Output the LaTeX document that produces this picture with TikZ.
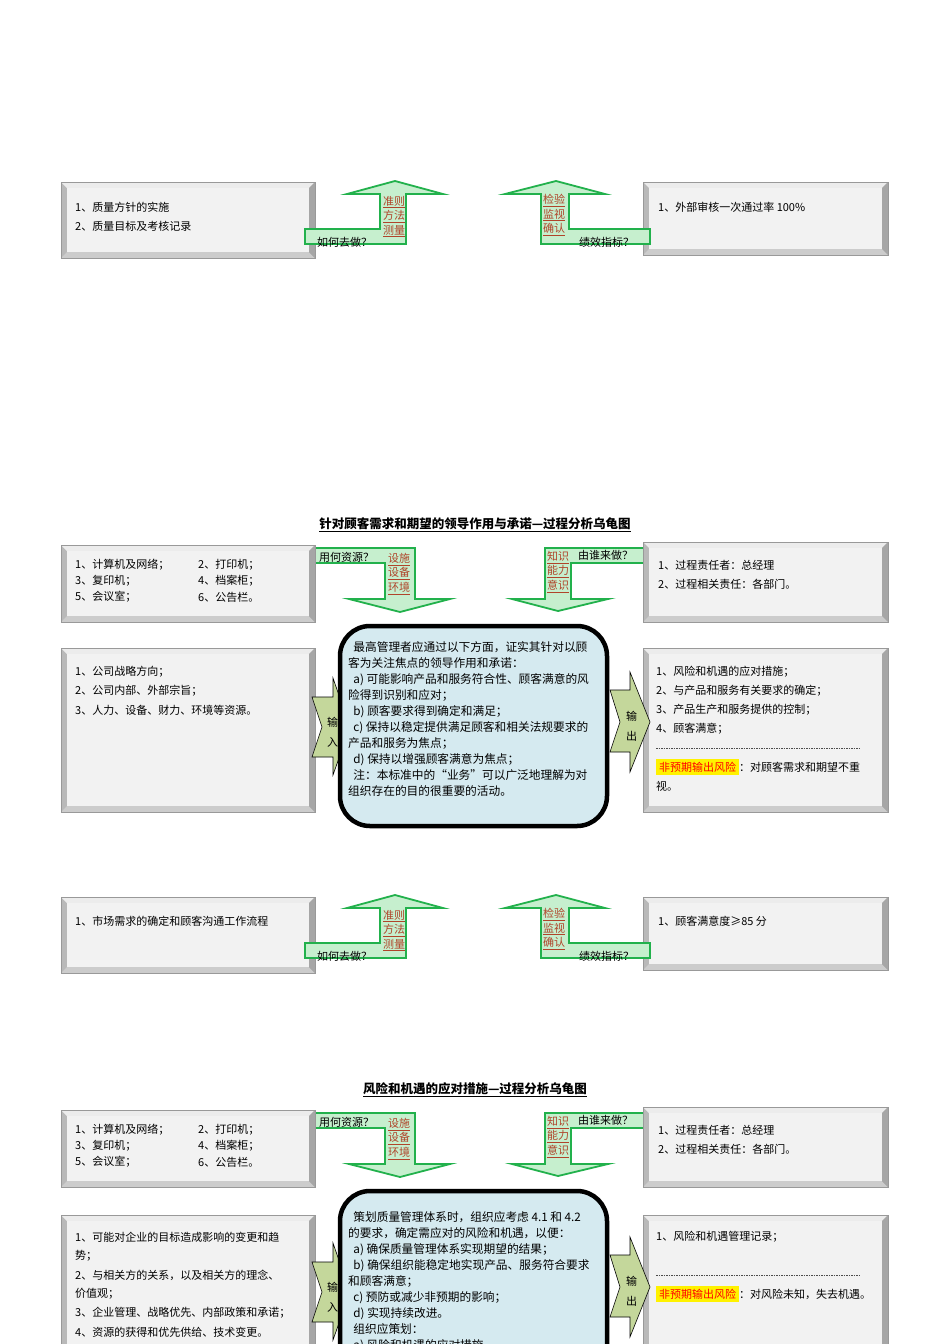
\documentclass[tikz,border=0pt]{standalone}
\usepackage{fontspec}
\setmainfont{Noto Sans CJK SC}
\definecolor{boxfill}{HTML}{F2F2F2}
\definecolor{grfill}{HTML}{C6EFCE}
\definecolor{grline}{HTML}{22B14C}
\definecolor{olive}{HTML}{C4D79B}
\definecolor{cblue}{HTML}{D5EAF0}
\definecolor{rbrown}{HTML}{B0442A}
\newcommand\bevbox[4]{%
 \fill[gray!55] (#1,#2) rectangle (#3,#4);
 \fill[gray!15] (#1,#2)--(#3,#2)--(#3-6,#2+6)--(#1+6,#2+6)--cycle;
 \fill[gray!40] (#1,#4)--(#3,#4)--(#3-6,#4-6)--(#1+6,#4-6)--cycle;
 \fill[gray!70] (#3,#2)--(#3,#4)--(#3-6,#4-6)--(#3-6,#2+6)--cycle;
 \fill[boxfill] (#1+6,#2+6) rectangle (#3-6,#4-6);
 \draw[gray!80] (#1,#2) rectangle (#3,#4);}
\newcommand\rl[1]{\textcolor{rbrown}{\underline{#1}}}
\tikzset{t/.style={anchor=west,inner sep=0pt,font=\fontsize{11}{12}\selectfont},
 g/.style={fill=grfill,draw=grline,line width=1.8pt},
 ch/.style={fill=olive,draw=black,line width=0.6pt},
 rl/.style={anchor=north,inner sep=0pt,align=center,font=\fontsize{11}{14.5}\selectfont},
 ct/.style={anchor=north west,inner sep=0pt,align=left,font=\fontsize{11.7}{16}\selectfont},
 ttl/.style={font=\bfseries\fontsize{12.5}{14}\selectfont,inner sep=0pt}}
\newcommand\uparrows[1]{% y offset
 \draw[g] (305,229+#1)--(380,229+#1)--(380,194+#1)--(347,194+#1)--(395,181+#1)--(443,194+#1)--(406,194+#1)--(406,244+#1)--(305,244+#1)--cycle;
 \draw[g] (650,229+#1)--(569,229+#1)--(569,194+#1)--(605,194+#1)--(556,181+#1)--(505,194+#1)--(541,194+#1)--(541,244+#1)--(650,244+#1)--cycle;
 \node[rl] (ua#1) at (394,196+#1) {\rl{准则}\\\rl{方法}\\\rl{测量}};
 \node[rl] (ub#1) at (554,194+#1) {\rl{检验}\\\rl{监视}\\\rl{确认}};
 \node[t] (uc#1) at (317,242+#1) {如何去做？};
 \node[t] (ud#1) at (579,242+#1) {绩效指标？};}
\newcommand\turtle[1]{% y offset relative to section 2
 \draw[g] (305,548+#1)--(415,548+#1)--(415,599+#1)--(450,599+#1)--(400,612+#1)--(349,599+#1)--(385,599+#1)--(385,563+#1)--(305,563+#1)--cycle;
 \draw[g] (648,548+#1)--(545,548+#1)--(545,599+#1)--(512,599+#1)--(558,611+#1)--(608,599+#1)--(571,599+#1)--(571,563+#1)--(648,563+#1)--cycle;
 \node[t] (da#1) at (319,557+#1) {用何资源？};
 \node[t] (db#1) at (578,555+#1) {由谁来做？};
 \node[rl] (dc#1) at (399,553+#1) {\rl{设施}\\\rl{设备}\\\rl{环境}};
 \node[rl] (dd#1) at (558,551+#1) {\rl{知识}\\\rl{能力}\\\rl{意识}};
 \bevbox{61}{545+#1}{315}{622+#1}
 \bevbox{643}{542+#1}{888}{622+#1}
 \node[t] (l1#1) at (75,565+#1) {1、计算机及网络；};
 \node[t] (l2#1) at (198,565+#1) {2、打印机；};
 \node[t] (l3#1) at (75,581+#1) {3、复印机；};
 \node[t] (l4#1) at (198,581+#1) {4、档案柜；};
 \node[t] (l5#1) at (75,597+#1) {5、会议室；};
 \node[t] (l6#1) at (198,597+#1) {6、公告栏。};
 \node[t] (r1#1) at (658,565+#1) {1、过程责任者：总经理};
 \node[t] (r2#1) at (658,584+#1) {2、过程相关责任：各部门。};
 \draw[ch] (312,697+#1)--(333,697+#1)--(333,678+#1)--(350,727+#1)--(333,775+#1)--(333,757+#1)--(312,757+#1)--(322,727+#1)--cycle;
 \draw[ch] (610,690+#1)--(630,690+#1)--(630,672+#1)--(650,722+#1)--(630,772+#1)--(630,752+#1)--(610,752+#1)--(620,722+#1)--cycle;
 \node[t] (in#1) at (327,722+#1) {输};
 \node[t] (in2#1) at (327,742+#1) {入};
 \node[t] (ou#1) at (626,716+#1) {输};
 \node[t] (ou2#1) at (626,736+#1) {出};}
\begin{document}
\begin{tikzpicture}[x=1pt,y=-1pt]
\useasboundingbox (0,0) rectangle (950,1344);
\clip (0,0) rectangle (950,1344);
\fill[white] (0,0) rectangle (950,1344);
% section 1
\bevbox{61}{182}{315}{258}
\bevbox{643}{182}{888}{255}
\node[t] (s1a) at (75,207) {1、质量方针的实施};
\node[t] (s1b) at (75,226) {2、质量目标及考核记录};
\node[t] (s1c) at (658,207) {1、外部审核一次通过率 100\%};
\uparrows{0}
% section 2
\node[ttl] (title2) at (475,525) {\underline{针对顾客需求和期望的领导作用与承诺—过程分析乌龟图}};
\bevbox{61}{648}{315}{812}
\bevbox{643}{648}{888}{812}
\turtle{0}
\draw[line width=4.5pt,fill=cblue,rounded corners=30pt] (340,626) rectangle (607,826);
\node[ct] (c2) at (348,641) {\ \ 最高管理者应通过以下方面，证实其针对以顾\\客为关注焦点的领导作用和承诺：\\\ \ a) 可能影响产品和服务符合性、顾客满意的风\\险得到识别和应对；\\\ \ b) 顾客要求得到确定和满足；\\\ \ c) 保持以稳定提供满足顾客和相关法规要求的\\产品和服务为焦点；\\\ \ d) 保持以增强顾客满意为焦点；\\\ \ 注：本标准中的“业务”可以广泛地理解为对\\组织存在的目的很重要的活动。};
\node[t] (m1) at (75,672) {1、公司战略方向；};
\node[t] (m2) at (75,691) {2、公司内部、外部宗旨；};
\node[t] (m3) at (75,710) {3、人力、设备、财力、环境等资源。};
\node[t] (o1) at (656,672) {1、风险和机遇的应对措施；};
\node[t] (o2) at (656,691) {2、与产品和服务有关要求的确定；};
\node[t] (o3) at (656,710) {3、产品生产和服务提供的控制；};
\node[t] (o4) at (656,729) {4、顾客满意；};
\draw[gray!60!black,dashed,dash pattern=on 1.5pt off 1pt] (656,748) -- (859,748);
\node[t] (o5) at (656,767) {\colorbox{yellow}{\textcolor{red}{非预期输出风险}}：对顾客需求和期望不重};
\node[t] (o6) at (656,786) {视。};
\bevbox{61}{897}{315}{973}
\bevbox{643}{897}{888}{970}
\node[t] (b1) at (75,921) {1、市场需求的确定和顾客沟通工作流程};
\node[t] (b2) at (658,921) {1、顾客满意度≥85 分};
\uparrows{714}
% section 3
\node[ttl] (title3) at (475,1090) {\underline{风险和机遇的应对措施—过程分析乌龟图}};
\bevbox{61}{1215}{315}{1400}
\bevbox{643}{1215}{888}{1400}
\turtle{565}
\draw[line width=4.5pt,fill=cblue,rounded corners=30pt] (340,1191) rectangle (607,1420);
\node[ct] (c3) at (348,1211) {\ \ 策划质量管理体系时，组织应考虑 4.1 和 4.2\\的要求，确定需应对的风险和机遇，以便：\\\ \ a) 确保质量管理体系实现期望的结果；\\\ \ b) 确保组织能稳定地实现产品、服务符合要求\\和顾客满意；\\\ \ c) 预防或减少非预期的影响；\\\ \ d) 实现持续改进。\\\ \ 组织应策划：\\\ \ a) 风险和机遇的应对措施};
\node[t] (n1) at (75,1237) {1、可能对企业的目标造成影响的变更和趋};
\node[t] (n2) at (75,1256) {势；};
\node[t] (n3) at (75,1275) {2、与相关方的关系，以及相关方的理念、};
\node[t] (n4) at (75,1294) {价值观；};
\node[t] (n5) at (75,1313) {3、企业管理、战略优先、内部政策和承诺；};
\node[t] (n6) at (75,1332) {4、资源的获得和优先供给、技术变更。};
\node[t] (p1) at (656,1237) {1、风险和机遇管理记录；};
\draw[gray!60!black,dashed,dash pattern=on 1.5pt off 1pt] (656,1275) -- (859,1275);
\node[t] (p2) at (656,1294) {\colorbox{yellow}{\textcolor{red}{非预期输出风险}}：对风险未知，失去机遇。};
\end{tikzpicture}
\end{document}
